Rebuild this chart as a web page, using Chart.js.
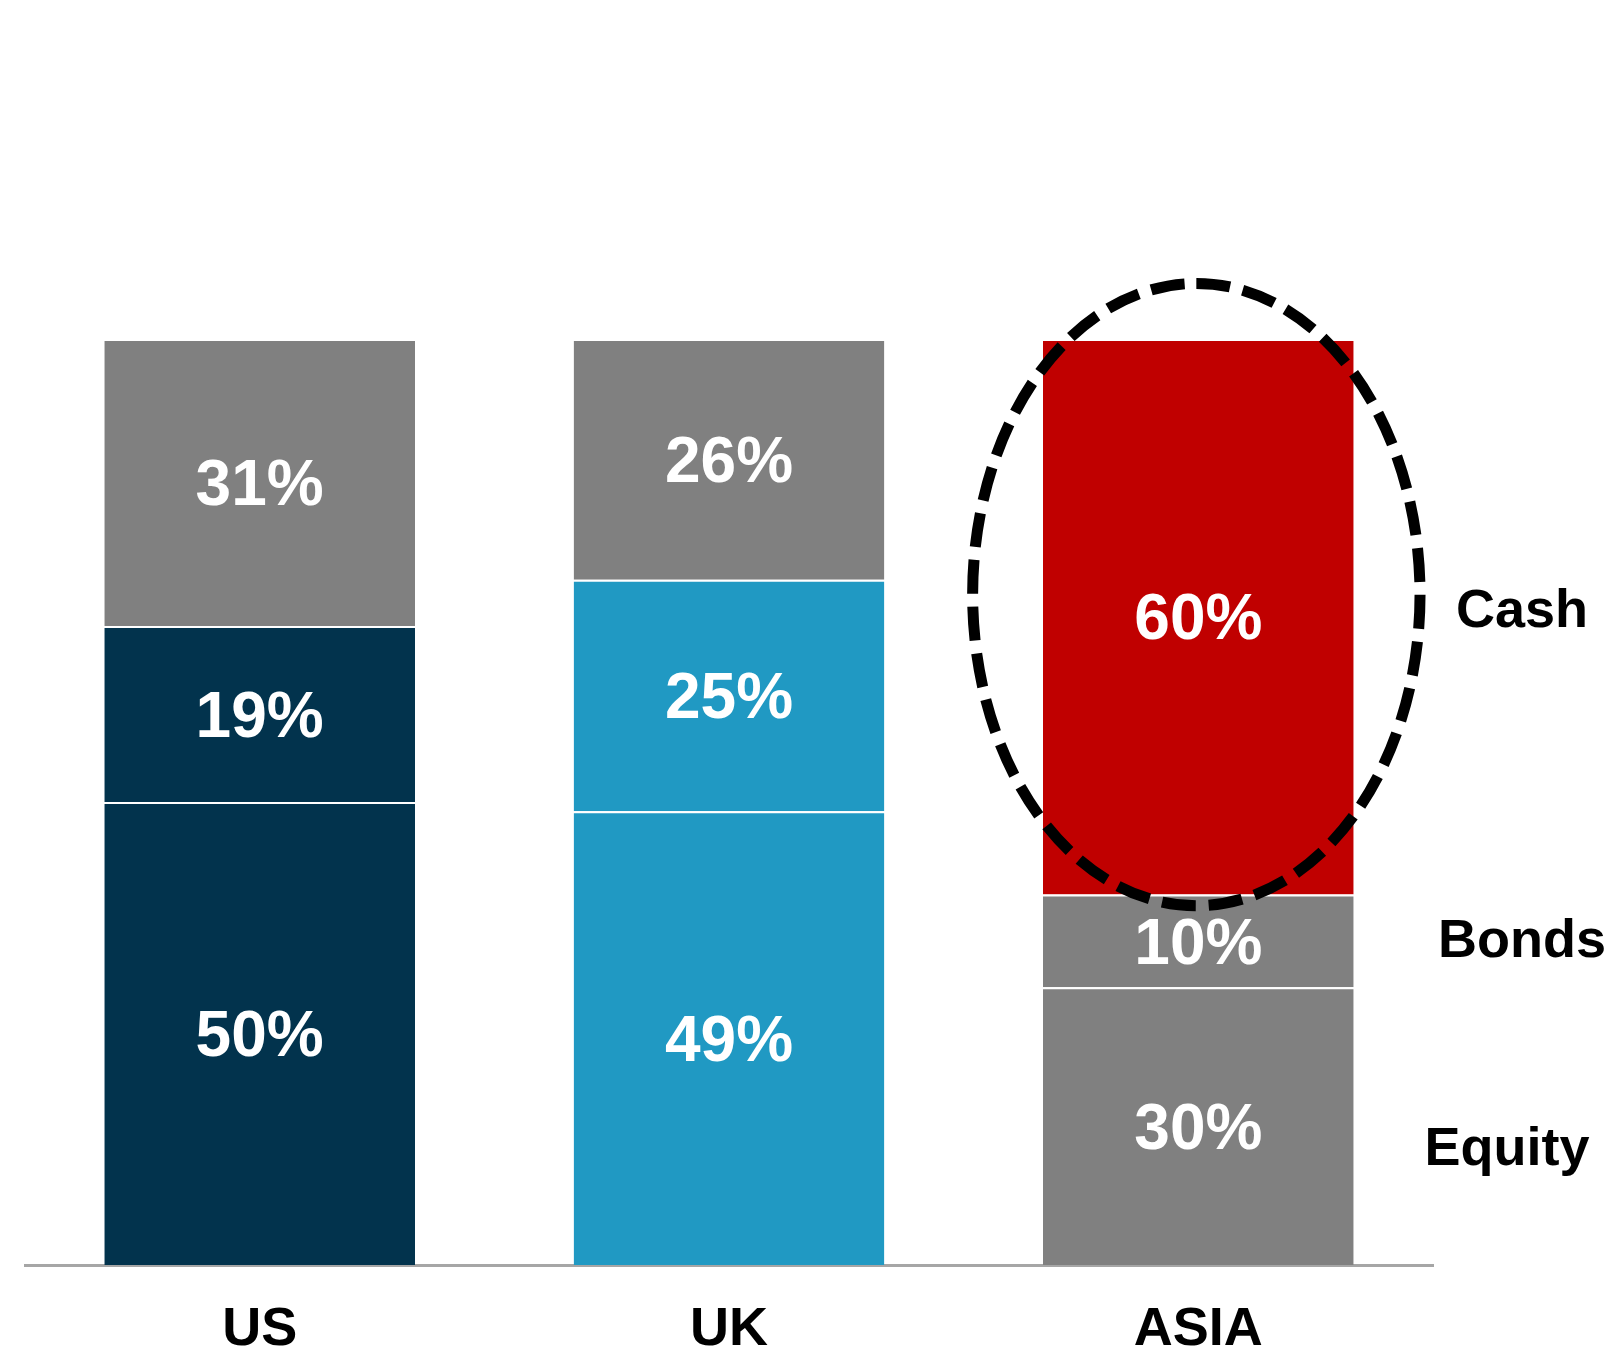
<!DOCTYPE html>
<html>
<head>
<meta charset="utf-8">
<script src="https://cdn.jsdelivr.net/npm/chart.js@4.4.0/dist/chart.umd.min.js"></script>
<style>
  html, body { margin: 0; padding: 0; background: #fff; }
</style>
</head>
<body>
<canvas id="myChart" width="1611" height="1356"></canvas>
<script>
// regions and their allocation split (percent)
const regions = ["US", "UK", "ASIA"];
const seriesNames = ["Equity", "Bonds", "Cash"];
const equity = [50, 49, 30];
const bonds = [19, 25, 10];
const cash = [31, 26, 60];

const NAVY = "#02334D";
const BLUE = "#2099C3";
const GREY = "#808080";
const RED = "#C00000";
const FONT = '"Liberation Sans", Arial, sans-serif';

// white % labels centred in each segment
const valueLabels = {
  id: "valueLabels",
  afterDatasetsDraw(chart) {
    const ctx = chart.ctx;
    ctx.save();
    ctx.font = "bold 64px " + FONT;
    ctx.fillStyle = "#fff";
    ctx.textAlign = "center";
    ctx.textBaseline = "middle";
    chart.data.datasets.forEach((ds, i) => {
      chart.getDatasetMeta(i).data.forEach((bar, j) => {
        ctx.fillText(ds.data[j] + "%", bar.x, (bar.y + bar.base) / 2 + 5);
      });
    });
    ctx.restore();
  }
};

// dashed ring around the Asia cash block
const cashRing = {
  id: "cashRing",
  afterDatasetsDraw(chart) {
    const bar = chart.getDatasetMeta(2).data[2];
    const h = bar.base - bar.y;
    const ctx = chart.ctx;
    ctx.save();
    ctx.strokeStyle = "#000";
    ctx.lineWidth = 11;
    ctx.setLineDash([34, 13]);
    ctx.beginPath();
    ctx.ellipse(bar.x - 2, bar.y + h * 0.46, bar.width * 0.72, h * 0.56, 0, -Math.PI / 2, Math.PI * 1.5);
    ctx.stroke();
    ctx.restore();
  }
};

// series names to the right of the last bar
const seriesTags = {
  id: "seriesTags",
  afterDraw(chart) {
    const ctx = chart.ctx;
    const shift = { Equity: [-15, 24], Bonds: [0, 1], Cash: [0, -5] };
    ctx.save();
    ctx.font = "bold 54px " + FONT;
    ctx.fillStyle = "#000";
    ctx.textAlign = "center";
    ctx.textBaseline = "middle";
    seriesNames.forEach((name, i) => {
      const bar = chart.getDatasetMeta(i).data[2];
      const s = shift[name];
      ctx.fillText(name, chart.chartArea.right + 89 + s[0], (bar.y + bar.base) / 2 + s[1]);
    });
    ctx.restore();
  }
};

const ctx = document.getElementById("myChart");
new Chart(ctx, {
  type: "bar",
  data: {
    labels: regions,
    datasets: [
      { label: seriesNames[0], data: equity, backgroundColor: [NAVY, BLUE, GREY] },
      { label: seriesNames[1], data: bonds, backgroundColor: [NAVY, BLUE, GREY] },
      { label: seriesNames[2], data: cash, backgroundColor: [GREY, GREY, RED] }
    ]
  },
  options: {
    responsive: false,
    animation: false,
    devicePixelRatio: 1,
    layout: { padding: { left: 25, right: 178, top: 339, bottom: 0 } },
    datasets: {
      bar: {
        categoryPercentage: 1,
        barPercentage: 0.662,
        borderColor: "#fff",
        borderWidth: { top: 2, left: 0, right: 0, bottom: 0 }
      }
    },
    plugins: {
      legend: { display: false },
      tooltip: { enabled: false }
    },
    scales: {
      x: {
        stacked: true,
        grid: { display: false, drawTicks: false },
        border: { display: true, color: "#a6a6a6", width: 3 },
        ticks: { color: "#000", padding: 33, font: { family: FONT, size: 54, weight: "bold" } },
        afterFit: (scale) => { scale.height = 91; }
      },
      y: { stacked: true, display: false, min: 0, max: 100 }
    }
  },
  plugins: [cashRing, valueLabels, seriesTags]
});
</script>
</body>
</html>
